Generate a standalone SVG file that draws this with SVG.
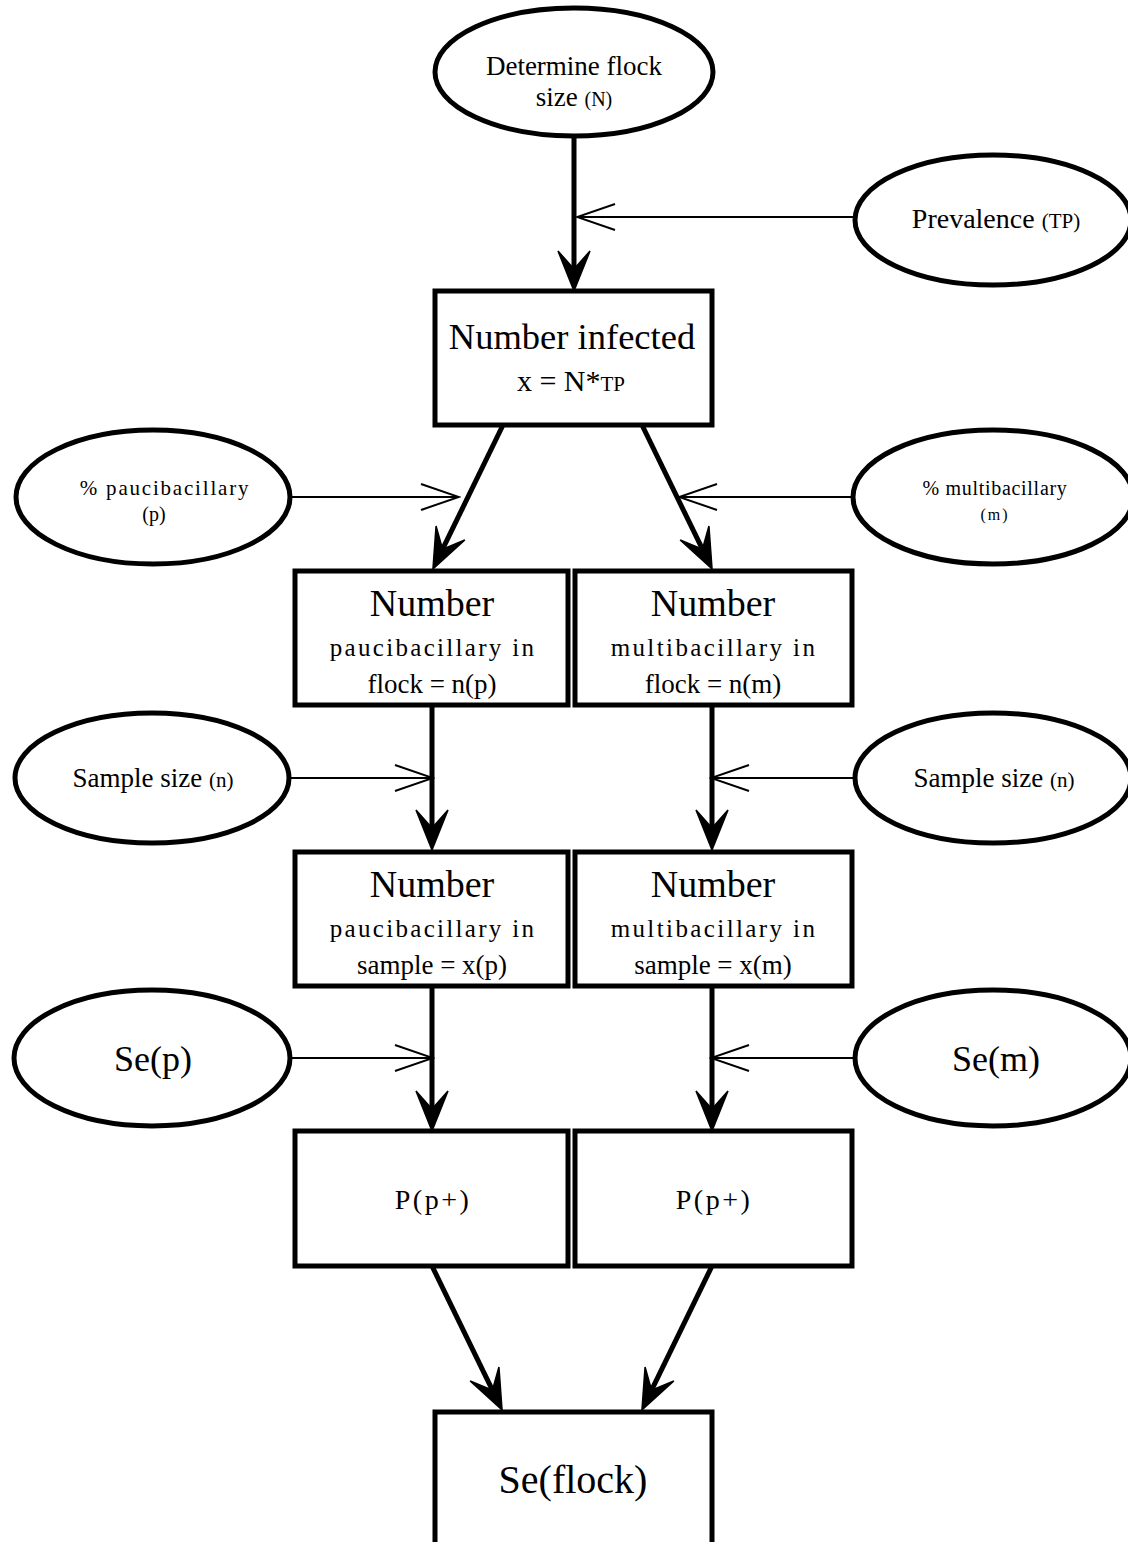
<svg xmlns="http://www.w3.org/2000/svg" width="1128" height="1542" viewBox="0 0 1128 1542">
<style>
  .node { fill: #fff; stroke: #000; stroke-width: 5; }
  .t { font-family: "Liberation Serif", "Times New Roman", serif; fill: #000; text-anchor: middle; }
  .main { stroke: #000; stroke-width: 5; fill: none; }
  .thin { stroke: #000; stroke-width: 2; fill: none; }
</style>
<defs>
  <marker id="stealth" markerUnits="userSpaceOnUse" viewBox="-44 -19 46 38" markerWidth="46" markerHeight="38" refX="-12" refY="0" orient="auto">
    <path d="M0,0 L-40,-16 L-22,0 L-40,16 Z" fill="#000" stroke="#000" stroke-width="1.5" stroke-linejoin="miter"/>
  </marker>
  <marker id="open" markerUnits="userSpaceOnUse" viewBox="-42 -16 44 32" markerWidth="44" markerHeight="32" refX="0" refY="0" orient="auto">
    <path d="M-38,-13 L0,0 L-38,13" fill="none" stroke="#000" stroke-width="2"/>
  </marker>
</defs>

<g id="connectors">
  <line class="main" x1="574" y1="137" x2="574" y2="279" marker-end="url(#stealth)"/>
  <line class="thin" x1="855" y1="217" x2="577" y2="217" marker-end="url(#open)"/>
  <line class="main" x1="503" y1="425" x2="438.2" y2="558.2" marker-end="url(#stealth)"/>
  <line class="main" x1="642" y1="425" x2="706.8" y2="558.2" marker-end="url(#stealth)"/>
  <line class="thin" x1="290" y1="497" x2="459" y2="497" marker-end="url(#open)"/>
  <line class="thin" x1="853" y1="497" x2="679" y2="497" marker-end="url(#open)"/>
  <line class="main" x1="432" y1="705" x2="432" y2="838" marker-end="url(#stealth)"/>
  <line class="main" x1="712" y1="705" x2="712" y2="838" marker-end="url(#stealth)"/>
  <line class="thin" x1="289" y1="778" x2="433" y2="778" marker-end="url(#open)"/>
  <line class="thin" x1="855" y1="778" x2="711" y2="778" marker-end="url(#open)"/>
  <line class="main" x1="432" y1="986" x2="432" y2="1119" marker-end="url(#stealth)"/>
  <line class="main" x1="712" y1="986" x2="712" y2="1119" marker-end="url(#stealth)"/>
  <line class="thin" x1="290" y1="1058" x2="433" y2="1058" marker-end="url(#open)"/>
  <line class="thin" x1="855" y1="1058" x2="711" y2="1058" marker-end="url(#open)"/>
  <line class="main" x1="432" y1="1266" x2="496.8" y2="1399.2" marker-end="url(#stealth)"/>
  <line class="main" x1="712" y1="1266" x2="647.2" y2="1399.2" marker-end="url(#stealth)"/>
</g>

<g id="flock-size">
  <ellipse class="node" cx="574" cy="72" rx="139" ry="64"/>
  <text class="t" x="574" y="75" font-size="27">Determine flock</text>
  <text class="t" x="574" y="106" font-size="27">size <tspan font-size="20">(N)</tspan></text>
</g>

<g id="prevalence">
  <ellipse class="node" cx="993" cy="220" rx="138" ry="65"/>
  <text class="t" x="996" y="228" font-size="28">Prevalence <tspan font-size="21">(TP)</tspan></text>
</g>

<g id="number-infected">
  <rect class="node" x="435" y="291" width="277" height="134"/>
  <text class="t" x="572" y="349" font-size="36.5">Number infected</text>
  <text class="t" x="571" y="391" font-size="30">x = N*<tspan font-size="21">TP</tspan></text>
</g>

<g id="pct-pauci">
  <ellipse class="node" cx="153" cy="497" rx="137" ry="67"/>
  <text class="t" x="165" y="495" font-size="21" letter-spacing="1.8">% paucibacillary</text>
  <text class="t" x="154" y="521" font-size="20">(p)</text>
</g>

<g id="pct-multi">
  <ellipse class="node" cx="993" cy="497" rx="140" ry="67"/>
  <text class="t" x="995" y="495" font-size="20" letter-spacing="0.7">% multibacillary</text>
  <text class="t" x="995" y="520" font-size="16" letter-spacing="2">(m)</text>
</g>

<g id="n-pauci-flock">
  <rect class="node" x="295" y="571" width="273" height="134"/>
  <text class="t" x="432" y="616" font-size="38">Number</text>
  <text class="t" x="433" y="656" font-size="25" letter-spacing="2.3">paucibacillary in</text>
  <text class="t" x="432" y="693" font-size="27">flock = n(p)</text>
</g>

<g id="n-multi-flock">
  <rect class="node" x="575" y="571" width="277" height="134"/>
  <text class="t" x="713" y="616" font-size="38">Number</text>
  <text class="t" x="714" y="656" font-size="25" letter-spacing="2.4">multibacillary in</text>
  <text class="t" x="713" y="693" font-size="27">flock = n(m)</text>
</g>

<g id="sample-size-left">
  <ellipse class="node" cx="152" cy="778" rx="137" ry="65"/>
  <text class="t" x="153" y="787" font-size="27">Sample size <tspan font-size="21">(n)</tspan></text>
</g>

<g id="sample-size-right">
  <ellipse class="node" cx="993" cy="778" rx="138" ry="65"/>
  <text class="t" x="994" y="787" font-size="27">Sample size <tspan font-size="21">(n)</tspan></text>
</g>

<g id="n-pauci-sample">
  <rect class="node" x="295" y="852" width="273" height="134"/>
  <text class="t" x="432" y="897" font-size="38">Number</text>
  <text class="t" x="433" y="937" font-size="25" letter-spacing="2.3">paucibacillary in</text>
  <text class="t" x="432" y="974" font-size="27">sample = x(p)</text>
</g>

<g id="n-multi-sample">
  <rect class="node" x="575" y="852" width="277" height="134"/>
  <text class="t" x="713" y="897" font-size="38">Number</text>
  <text class="t" x="714" y="937" font-size="25" letter-spacing="2.4">multibacillary in</text>
  <text class="t" x="713" y="974" font-size="27">sample = x(m)</text>
</g>

<g id="se-p">
  <ellipse class="node" cx="152" cy="1058" rx="138" ry="68"/>
  <text class="t" x="153" y="1071" font-size="36">Se(p)</text>
</g>

<g id="se-m">
  <ellipse class="node" cx="993" cy="1058" rx="138" ry="68"/>
  <text class="t" x="996" y="1071" font-size="36">Se(m)</text>
</g>

<g id="p-pauci">
  <rect class="node" x="295" y="1131" width="273" height="135"/>
  <text class="t" x="433" y="1209" font-size="28" letter-spacing="2.5">P(p+)</text>
</g>

<g id="p-multi">
  <rect class="node" x="575" y="1131" width="277" height="135"/>
  <text class="t" x="714" y="1209" font-size="28" letter-spacing="2.5">P(p+)</text>
</g>

<g id="se-flock">
  <rect class="node" x="435" y="1412" width="277" height="160"/>
  <text class="t" x="573" y="1493" font-size="40">Se(flock)</text>
</g>
</svg>
